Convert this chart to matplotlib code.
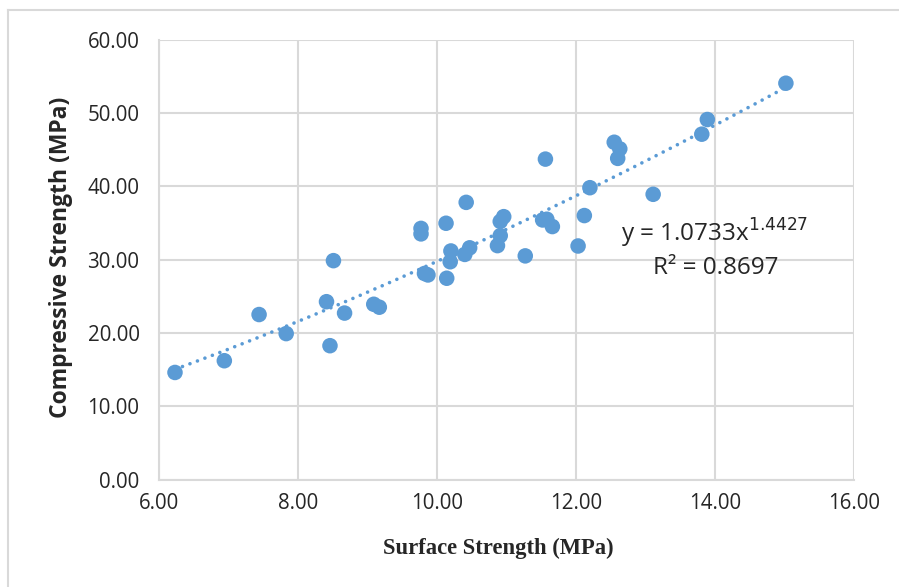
import numpy as np
import matplotlib
matplotlib.use("Agg")
import matplotlib.pyplot as plt
from matplotlib.lines import Line2D

surface = [6.23, 6.94, 7.44, 7.83, 8.41, 8.46, 8.51, 8.67, 9.09, 9.17,
           9.77, 9.77, 9.82, 9.87, 10.13, 10.14, 10.19, 10.20, 10.40, 10.42,
           10.47, 10.87, 10.91, 10.91, 10.96, 11.27, 11.52, 11.58, 11.56, 11.66,
           12.03, 12.12, 12.20, 12.55, 12.60, 12.63, 13.11, 13.81, 13.89, 15.02]
compressive = [14.6, 16.2, 22.5, 19.9, 24.25, 18.25, 29.85, 22.7, 23.9, 23.5,
               34.25, 33.5, 28.1, 27.9, 34.95, 27.45, 29.7, 31.17, 30.7, 37.8,
               31.6, 31.9, 33.26, 35.2, 35.85, 30.5, 35.4, 35.5, 43.7, 34.5,
               31.85, 36.0, 39.8, 46.0, 43.8, 45.1, 38.9, 47.1, 49.1, 54.05]
coef_a = 1.0733
coef_b = 1.4427
r2 = 0.8697
x_ticks = [6, 8, 10, 12, 14, 16]
y_ticks = [0, 10, 20, 30, 40, 50, 60]

blue = "#5B9BD5"
grid = "#D9D9D9"
W, H = 899, 587
fig = plt.figure(figsize=(W / 100, H / 100), dpi=100)
ax = fig.add_axes([159 / W, 1 - 479.5 / H, (854 - 159) / W, (479.5 - 39.6) / H])

ax.set_xlim(6, 16)
ax.set_ylim(0, 60)
ax.set_xticks(x_ticks)
ax.set_yticks(y_ticks)
ax.set_xticklabels([f"{v:.2f}" for v in x_ticks])
ax.set_yticklabels([f"{v:.2f}" for v in y_ticks])
ax.grid(True, color=grid, linewidth=1.5)
ax.set_axisbelow(True)
for s in ["top", "right"]:
    ax.spines[s].set_visible(False)
for s in ["left", "bottom"]:
    ax.spines[s].set_color(grid)
    ax.spines[s].set_linewidth(1.5)
ax.tick_params(length=0, labelsize=14.8, colors="#262626")
ax.tick_params(axis="x", pad=10)
ax.tick_params(axis="y", pad=14)
for lab in ax.get_xticklabels() + ax.get_yticklabels():
    lab.set_family("Open Sans")

# trendline (power fit)
xs = np.linspace(min(surface), max(surface), 300)
ax.plot(xs, coef_a * xs ** coef_b, color=blue, linestyle=(0, (0.01, 2.2)),
        linewidth=2.6, dash_capstyle="round", zorder=2)

ax.scatter(surface, compressive, s=125, color=blue, edgecolors="none", zorder=3)

fig.text(715 / W, 1 - 233 / H, f"y = {coef_a}x$^{{{coef_b}}}$", ha="center",
         va="center", fontsize=17.5, family="Open Sans", color="#262626")
fig.text(716 / W, 1 - 268 / H, f"R² = {r2}", ha="center", va="center",
         fontsize=17.5, family="Open Sans", color="#262626")

fig.text(61 / W, 1 - 257 / H, "Compressive Strength (MPa)", rotation=90,
         ha="center", va="center", fontsize=16.5, fontweight="bold",
         family="Open Sans", color="#262626")
fig.text(498 / W, 1 - 548 / H, "Surface Strength (MPa)", ha="center",
         va="center", fontsize=16.3, fontweight="bold", family="Liberation Serif",
         color="#262626")

# outer chart border (top and left visible)
fig.add_artist(Line2D([8 / W, 8 / W], [0, 1 - 10 / H], transform=fig.transFigure,
                      color=grid, linewidth=1.5))
fig.add_artist(Line2D([8 / W, 1], [1 - 10 / H, 1 - 10 / H], transform=fig.transFigure,
                      color=grid, linewidth=1.5))

fig.savefig("out.png", dpi=100)
